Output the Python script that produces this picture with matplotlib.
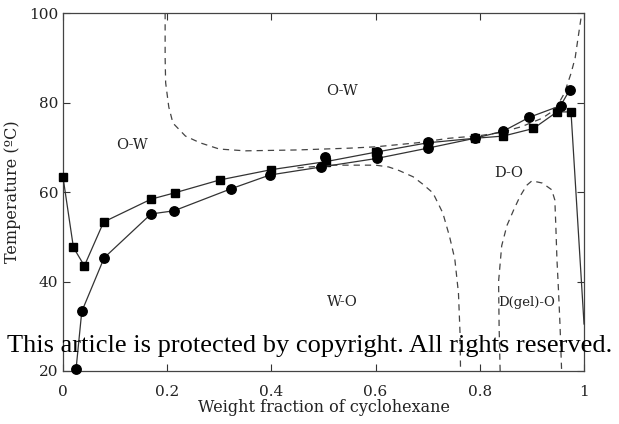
import matplotlib
matplotlib.use('Agg')
import matplotlib.pyplot as plt

# measured transition temperatures
sq_x = [0.0, 0.02, 0.041, 0.078, 0.169, 0.214, 0.301, 0.40, 0.505, 0.60, 0.70, 0.79, 0.845, 0.903, 0.948, 0.975]
sq_t = [63.3, 47.6, 43.5, 53.3, 58.4, 59.8, 62.7, 65.0, 66.8, 68.9, 71.0, 72.0, 72.5, 74.2, 77.9, 77.9]
sq_end = (1.0, 30.5)

ci_x = [0.025, 0.036, 0.079, 0.169, 0.213, 0.322, 0.397, 0.496, 0.602, 0.70, 0.79, 0.845, 0.895, 0.955, 0.973]
ci_t = [20.4, 33.3, 45.3, 55.1, 55.8, 60.7, 63.8, 65.6, 67.5, 69.8, 72.0, 73.6, 76.7, 79.3, 82.9]
rep_x = [0.503, 0.602, 0.70]
rep_t = [67.9, 69.0, 71.2]

# phase boundaries
ow_x = [0.196, 0.196, 0.197, 0.203, 0.211, 0.235, 0.263, 0.30, 0.35, 0.45, 0.55, 0.60, 0.68,
        0.74, 0.80, 0.84, 0.88, 0.92, 0.945, 0.962, 0.975, 0.983, 0.988, 0.995]
ow_t = [100, 90, 84.4, 79, 75.4, 72.5, 71, 69.6, 69.2, 69.4, 69.8, 70.1, 71,
        72, 72.6, 73.3, 74.6, 76.5, 78.5, 82, 86.5, 90, 94, 99.5]
wo_x = [0.45, 0.52, 0.60, 0.625, 0.645, 0.672, 0.69, 0.71, 0.729, 0.742, 0.752, 0.759, 0.762, 0.763]
wo_t = [65.4, 66.0, 66.0, 65.6, 64.8, 63.4, 61.8, 59.8, 55.3, 50, 45, 37.4, 28.5, 20]
gel_x = [0.839, 0.837, 0.836, 0.842, 0.852, 0.865, 0.877, 0.89, 0.90, 0.92, 0.938, 0.944,
         0.946, 0.948, 0.951, 0.954, 0.957]
gel_t = [20, 30, 40, 48, 52.5, 56, 59, 61.5, 62.5, 62, 60.5, 58.2, 52, 45, 38, 30, 20]

regions = ['O-W', 'O-W', 'D-O', 'W-O', 'D(gel)-O']
region_x = [0.132, 0.535, 0.856, 0.537, 0.89]
region_t = [70.5, 82.6, 64.2, 35.4, 35.2]

plt.rcParams['font.family'] = 'DejaVu Serif'

fig = plt.figure(figsize=(6.19, 4.24), dpi=100)
ax = fig.add_axes([0.1018, 0.125, 0.8417, 0.8443])

dash = dict(color='#444444', lw=0.9, ls=(0, (5, 4)))
ax.plot(ow_x, ow_t, **dash)
ax.plot(wo_x, wo_t, **dash)
ax.plot(gel_x, gel_t, **dash)

ax.plot(sq_x + [sq_end[0]], sq_t + [sq_end[1]], color='#333333', lw=0.9,
        marker='s', ms=6.2, mfc='black', mec='black', markevery=slice(0, len(sq_x)),
        clip_on=False, zorder=3)
ax.plot(ci_x, ci_t, color='#333333', lw=0.9, marker='o', ms=6.8, mfc='black', mec='black',
        clip_on=False, zorder=3)
ax.plot(rep_x, rep_t, ls='none', marker='o', ms=6.8, mfc='black', mec='black', zorder=4)

for lab, x, t in zip(regions, region_x, region_t):
    fs = 9.5 if 'gel' in lab else 10.5
    ax.text(x, t, lab, ha='center', va='center', fontsize=fs, color='#222222')

ax.set_xlim(0, 1)
ax.set_ylim(20, 100)
ax.set_xticks([0, 0.2, 0.4, 0.6, 0.8, 1])
ax.set_xticklabels(['0', '0.2', '0.4', '0.6', '0.8', '1'])
ax.set_yticks([20, 40, 60, 80, 100])
ax.tick_params(direction='in', top=True, right=True, length=5, width=0.8,
               labelsize=11, colors='#333333', labelcolor='#222222')
ax.tick_params(axis='x', pad=10)
for s in ax.spines.values():
    s.set_color('#444444')
    s.set_linewidth(0.9)

ax.set_xlabel('Weight fraction of cyclohexane', fontsize=11.5, color='#222222', labelpad=0)
ax.set_ylabel('Temperature (ºC)', fontsize=11.5, color='#222222', labelpad=6)

fig.text(0.5, 0.17, 'This article is protected by copyright. All rights reserved.',
         ha='center', va='baseline', fontsize=19, family='Liberation Serif', color='black')

fig.savefig('out.png', dpi=100)
plt.close(fig)
